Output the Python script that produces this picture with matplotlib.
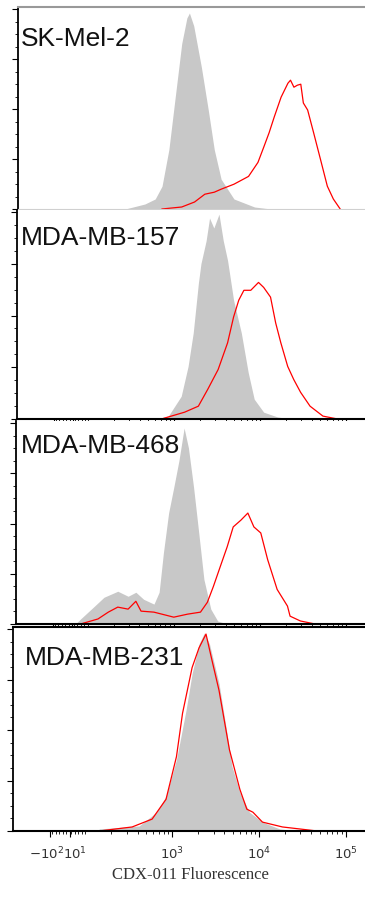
import numpy as np
import matplotlib
matplotlib.use('Agg')
import matplotlib.pyplot as plt
import matplotlib.transforms as mtransforms
from matplotlib.ticker import FixedLocator, NullFormatter, MultipleLocator

plt.rcParams['mathtext.fontset'] = 'stix'

# cell lines (panel labels, top to bottom)
names = ['SK-Mel-2', 'MDA-MB-157', 'MDA-MB-468', 'MDA-MB-231']

# x = log10 of CDX-011 fluorescence, y = % of max count
# gray = isotype control, red = CDX-011
iso_x = [
    [2.42, 2.65, 2.77, 2.85, 2.93, 3.00, 3.08, 3.14, 3.17, 3.22, 3.31, 3.39, 3.46, 3.54, 3.69, 3.93, 4.12],
    [2.79, 2.93, 3.08, 3.16, 3.22, 3.28, 3.31, 3.37, 3.41, 3.46, 3.52, 3.57, 3.62, 3.69, 3.78, 3.86, 3.93, 4.04, 4.20, 4.35],
    [1.47, 1.77, 2.08, 2.19, 2.35, 2.47, 2.56, 2.65, 2.77, 2.83, 2.88, 2.94, 3.00, 3.06, 3.12, 3.17, 3.23, 3.29, 3.35, 3.43, 3.51, 3.62],
    [2.16, 2.62, 2.82, 2.93, 3.05, 3.16, 3.23, 3.31, 3.37, 3.43, 3.54, 3.62, 3.69, 3.78, 3.89, 4.04, 4.24, 4.47],
]
iso_y = [
    [0, 2.5, 5, 11.4, 29.7, 54.5, 82.7, 95.5, 98, 91.6, 70.8, 49.5, 29.7, 14.9, 5, 1, 0],
    [0, 1.4, 11, 25.4, 41.6, 65.6, 75.1, 86.1, 97.1, 92.3, 99, 86.1, 76.6, 57.4, 41.6, 22.5, 9.6, 3.3, 1, 0],
    [0, 2.5, 8.9, 13.3, 16.3, 13.8, 15.8, 12.3, 9.9, 15.8, 35.5, 55.2, 68, 81.3, 97.5, 87.7, 68, 45.3, 22.2, 7.4, 1.5, 0],
    [1, 2.5, 9.3, 17.2, 35.3, 59.8, 77.9, 92.6, 98, 92.6, 73, 51.5, 31.9, 19.1, 9.3, 4.4, 1, 0],
]
cdx_x = [
    [2.85, 3.08, 3.23, 3.35, 3.46, 3.54, 3.69, 3.86, 3.97, 4.04, 4.10, 4.16, 4.24, 4.32, 4.35, 4.39, 4.43, 4.47, 4.50, 4.55, 4.62, 4.70, 4.78, 4.85, 4.93],
    [2.85, 3.12, 3.28, 3.39, 3.51, 3.62, 3.69, 3.75, 3.81, 3.89, 3.98, 4.04, 4.12, 4.18, 4.24, 4.32, 4.39, 4.47, 4.58, 4.73, 4.90],
    [1.77, 2.12, 2.24, 2.35, 2.47, 2.56, 2.62, 2.77, 3.00, 3.16, 3.31, 3.39, 3.46, 3.54, 3.62, 3.69, 3.78, 3.86, 3.93, 4.01, 4.09, 4.20, 4.32, 4.35, 4.47, 4.64],
    [2.16, 2.54, 2.77, 2.93, 3.05, 3.12, 3.23, 3.31, 3.39, 3.46, 3.54, 3.66, 3.78, 3.86, 3.93, 4.04, 4.27, 4.67],
]
cdx_y = [
    [0, 1, 3.5, 7.4, 8.4, 9.9, 12.4, 16.3, 23.3, 31.2, 38.1, 46, 55.9, 62.9, 64.4, 60.9, 61.9, 62.4, 53, 49.5, 38.1, 24.8, 11.4, 5, 0],
    [0, 3.3, 6.2, 14.4, 23.9, 36.8, 49.3, 57.4, 62.2, 62.2, 66, 63.6, 58.9, 46.4, 36.8, 25.4, 19.1, 12.9, 6.2, 1.4, 0],
    [0, 2.5, 5.9, 8.4, 7.4, 11.3, 6.4, 5.9, 3.4, 4.9, 5.9, 10.8, 18.7, 28.6, 38.4, 48.3, 51.7, 55.2, 48.3, 45.3, 32, 17.2, 8.9, 3.9, 1.5, 0],
    [0, 2, 5.9, 15.7, 36.8, 58.3, 80.9, 90.7, 97.5, 84.3, 69.6, 40.2, 20.6, 10.8, 9.3, 4.4, 2, 0],
]

W, H = 365, 903
# panel boxes in pixels: left, top, bottom
boxes = [(18, 8, 210), (17, 211, 420), (16, 422, 625), (13, 628, 832)]
label_pos = [(21, 46), (21, 245), (21, 453), (25, 665)]

fig = plt.figure(figsize=(W / 100, H / 100), dpi=100)

for i in range(4):
    left, top, bot = boxes[i]
    ax = fig.add_axes([left / W, (H - bot) / H, (W + 2 - left) / W, (bot - top) / H])
    ax.set_xscale('symlog', linthresh=100, linscale=0.18)
    x_iso = 10 ** np.array(iso_x[i])
    x_cdx = 10 ** np.array(cdx_x[i])
    ax.fill_between(x_iso, iso_y[i], 0, color='#c8c8c8', lw=0)
    ax.plot(x_cdx, cdx_y[i], color='#ff0000', lw=0.9)
    ax.set_xlim(-270, 1.75e5)
    ax.set_ylim(0, 101)

    ax.spines['right'].set_visible(False)
    ax.spines['left'].set_linewidth(1.3)
    if i == 0:
        ax.spines['top'].set_color('#999999')
        ax.spines['top'].set_linewidth(1.5)
        ax.spines['bottom'].set_color('#d0d0d0')
    else:
        ax.spines['top'].set_visible(i == 3)
        ax.spines['top'].set_linewidth(1.5)
        ax.spines['bottom'].set_linewidth(1.5)

    # y ticks, no labels
    ax.yaxis.set_major_locator(MultipleLocator(25))
    ax.yaxis.set_minor_locator(MultipleLocator(6.25))
    ax.yaxis.set_major_formatter(NullFormatter())
    ax.tick_params(axis='y', which='major', direction='out', length=4, width=0.8)
    ax.tick_params(axis='y', which='minor', direction='out', length=2.5, width=0.6)

    # x ticks
    minors = [-90, -70, -50, -30, -10, 20, 40, 60, 80, 100]
    for d in [100, 1000, 10000]:
        minors += [m * d for m in range(2, 10)]
    ax.xaxis.set_major_locator(FixedLocator([-100, 10, 1000, 10000, 100000]))
    ax.xaxis.set_minor_locator(FixedLocator(minors))
    ax.tick_params(axis='x', which='major', direction='out', length=4, width=0.8)
    ax.tick_params(axis='x', which='minor', direction='out', length=2.5, width=0.6)
    if i == 3:
        ax.set_xticklabels([r'$\mathregular{-10^2}$', r'$\mathregular{10^1}$',
                            r'$\mathregular{10^3}$', r'$\mathregular{10^4}$',
                            r'$\mathregular{10^5}$'],
                           fontsize=9.5, color='#333333')
        ax.tick_params(axis='x', pad=6)
        labs = ax.get_xticklabels()
        # nudge the two crowded labels apart
        labs[0].set_transform(labs[0].get_transform() +
                              mtransforms.ScaledTranslation(-4 / 100, 0, fig.dpi_scale_trans))
        labs[1].set_transform(labs[1].get_transform() +
                              mtransforms.ScaledTranslation(5 / 100, 0, fig.dpi_scale_trans))
        ax.set_xlabel('CDX-011 Fluorescence', family='Liberation Serif',
                      fontsize=12, color='#333333', labelpad=3)
    else:
        ax.set_xticklabels([])

    lx, ly = label_pos[i]
    fig.text(lx / W, (H - ly) / H, names[i], fontsize=19,
             family='Liberation Sans', color='#111111', ha='left', va='baseline')

fig.savefig('out.png', dpi=100)
